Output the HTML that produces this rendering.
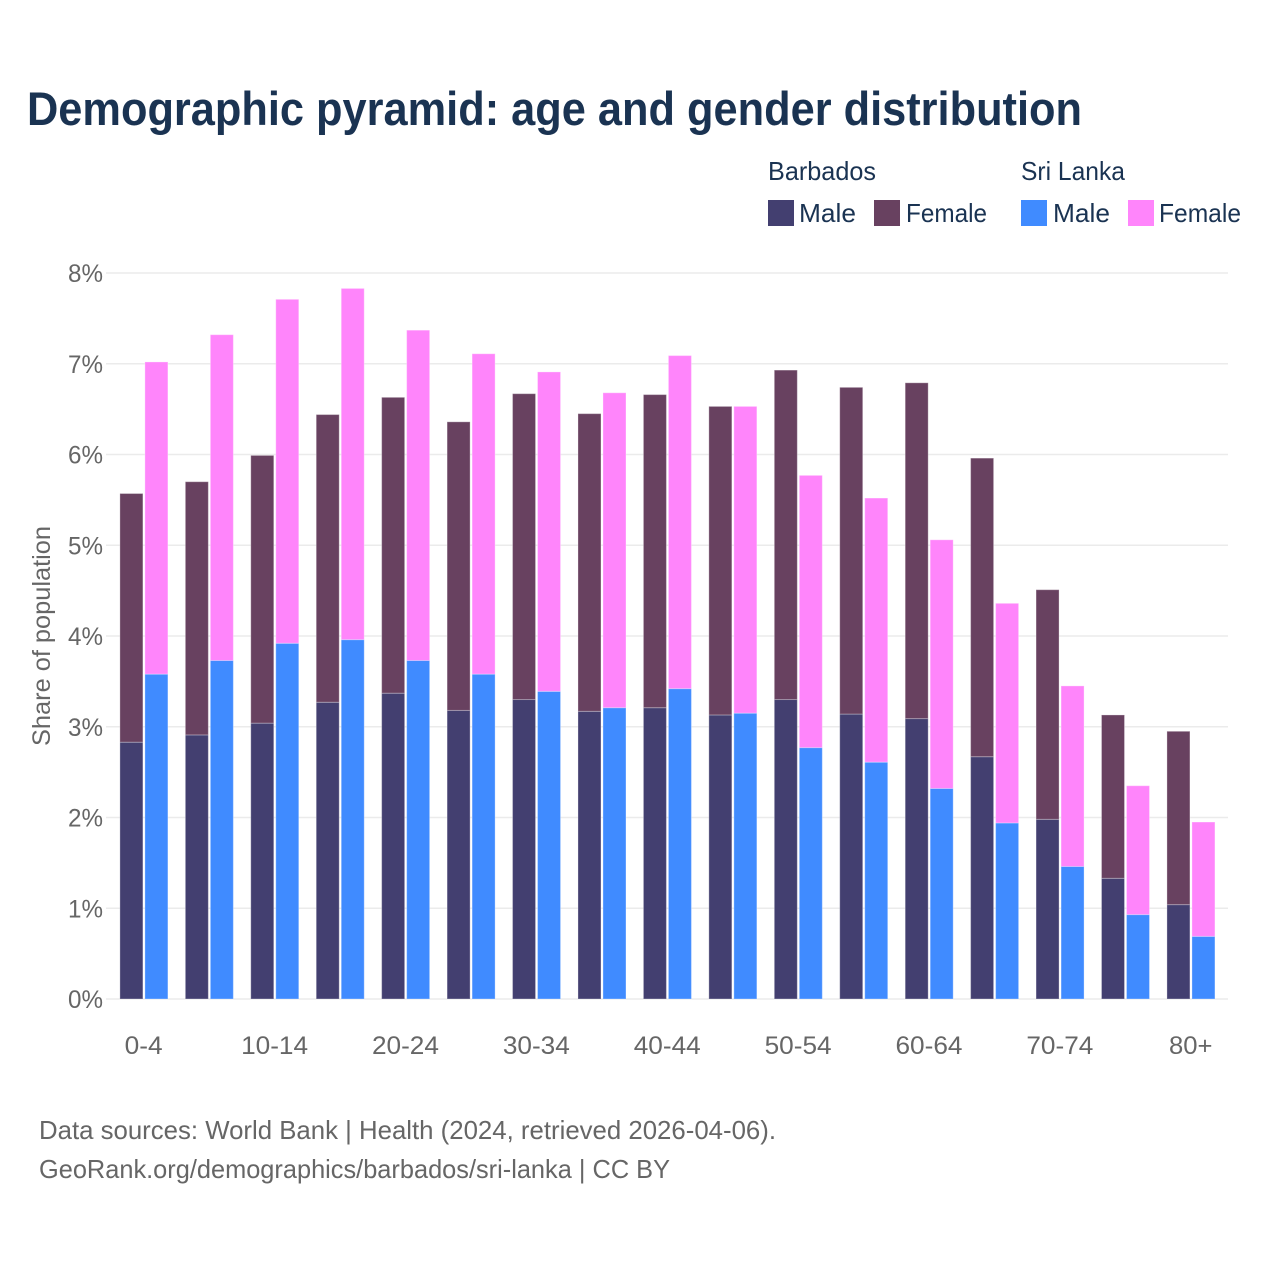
<!DOCTYPE html>
<html lang="en">
<head>
<meta charset="utf-8">
<title>Demographic pyramid: age and gender distribution</title>
<style>
html,body{margin:0;padding:0;background:#fff;}
svg{display:block;font-family:"Liberation Sans",sans-serif;}
</style>
</head>
<body>
<svg id="chart" width="1280" height="1280" viewBox="0 0 1280 1280" xmlns="http://www.w3.org/2000/svg">
  <rect x="0" y="0" width="1280" height="1280" fill="#ffffff"/>
  <text x="27" y="125" font-size="47" font-weight="700" fill="#1a3352" textLength="1055" lengthAdjust="spacingAndGlyphs">Demographic pyramid: age and gender distribution</text>

  <g font-size="26" fill="#1a3352">
    <text x="768" y="180" textLength="108" lengthAdjust="spacingAndGlyphs">Barbados</text>
    <text x="1021" y="180" textLength="104" lengthAdjust="spacingAndGlyphs">Sri Lanka</text>
    <rect x="768" y="200" width="26" height="26" fill="#433f70"/>
    <text x="799" y="222" textLength="57" lengthAdjust="spacingAndGlyphs">Male</text>
    <rect x="874" y="200" width="26" height="26" fill="#684160"/>
    <text x="906" y="222" textLength="81" lengthAdjust="spacingAndGlyphs">Female</text>
    <rect x="1021" y="200" width="26" height="26" fill="#408bff"/>
    <text x="1053" y="222" textLength="57" lengthAdjust="spacingAndGlyphs">Male</text>
    <rect x="1128" y="200" width="26" height="26" fill="#ff85fb"/>
    <text x="1159" y="222" textLength="82" lengthAdjust="spacingAndGlyphs">Female</text>
  </g>

  <g id="grid"></g>
  <g id="yticks"></g>
  <g id="bars"></g>
  <g id="xticks"></g>

  <text transform="translate(50,636) rotate(-90)" text-anchor="middle" font-size="25" fill="#666666" textLength="220" lengthAdjust="spacingAndGlyphs">Share of population</text>

  <text x="39" y="1139" font-size="26" fill="#666666" textLength="737" lengthAdjust="spacingAndGlyphs">Data sources: World Bank | Health (2024, retrieved 2026-04-06).</text>
  <text x="39" y="1178" font-size="26" fill="#666666" textLength="631" lengthAdjust="spacingAndGlyphs">GeoRank.org/demographics/barbados/sri-lanka | CC BY</text>
</svg>
<script>
const categories = ["0-4","5-9","10-14","15-19","20-24","25-29","30-34","35-39","40-44","45-49","50-54","55-59","60-64","65-69","70-74","75-79","80+"];
const xTickLabels = ["0-4","10-14","20-24","30-34","40-44","50-54","60-64","70-74","80+"];
const yTickValues = [0,1,2,3,4,5,6,7,8];
const barbadosMale = [2.83,2.91,3.04,3.27,3.37,3.18,3.30,3.17,3.21,3.13,3.30,3.14,3.09,2.67,1.98,1.33,1.04];
const barbadosFemale = [2.74,2.79,2.95,3.17,3.26,3.18,3.37,3.28,3.45,3.40,3.63,3.60,3.70,3.29,2.53,1.80,1.91];
const sriLankaMale = [3.58,3.73,3.92,3.96,3.73,3.58,3.39,3.21,3.42,3.15,2.77,2.61,2.32,1.94,1.46,0.93,0.69];
const sriLankaFemale = [3.44,3.59,3.79,3.87,3.64,3.53,3.52,3.47,3.67,3.38,3.00,2.91,2.74,2.42,1.99,1.42,1.26];

const NS = "http://www.w3.org/2000/svg";
const yScale = v => 999 - v * 90.75;
const xCenter = i => 143.7 + i * 65.44;
const BAR_W = 23;
const GAP = 2;
const colors = {bm:"#433f70", bf:"#684160", sm:"#408bff", sf:"#ff85fb"};
const labelWidth = s => {
  let w = 0;
  for (const c of s) w += c === "-" ? 9 : c === "%" ? 20.5 : 14.5;
  return w;
};

const grid = document.getElementById("grid");
const yticks = document.getElementById("yticks");
yTickValues.forEach(v => {
  const line = document.createElementNS(NS, "line");
  
  
  line.setAttribute("x1", 106);
  line.setAttribute("x2", 1228);
  line.setAttribute("y1", yScale(v));
  line.setAttribute("y2", yScale(v));
  line.setAttribute("stroke", "#ebebeb");
  line.setAttribute("stroke-width", 1.6);
  grid.appendChild(line);
  const t = document.createElementNS(NS, "text");
  
  
  const s = v + "%";
  t.setAttribute("x", 103 - labelWidth(s));
  t.setAttribute("y", yScale(v) + 9);
  t.setAttribute("font-size", 25);
  t.setAttribute("fill", "#666666");
  t.setAttribute("textLength", labelWidth(s));
  t.setAttribute("lengthAdjust", "spacingAndGlyphs");
  t.textContent = s;
  yticks.appendChild(t);
});

const bars = document.getElementById("bars");
function addSegment(x, base, value, fill, name) {
  const r = document.createElementNS(NS, "rect");
  
  
  r.setAttribute("x", x);
  r.setAttribute("y", yScale(base + value));
  r.setAttribute("width", BAR_W);
  r.setAttribute("height", yScale(base) - yScale(base + value));
  r.setAttribute("fill", fill);
  r.setAttribute("stroke", "#ffffff");
  r.setAttribute("stroke-opacity", "0.3");
  r.setAttribute("stroke-width", "1");
  bars.appendChild(r);
}
categories.forEach((c, i) => {
  const left = xCenter(i) - BAR_W - GAP / 2 + 0.2;
  const right = xCenter(i) + GAP / 2 + 0.2;
  addSegment(left, 0, barbadosMale[i], colors.bm, 'bar-barbados-male');
  addSegment(left, barbadosMale[i], barbadosFemale[i], colors.bf, 'bar-barbados-female');
  addSegment(right, 0, sriLankaMale[i], colors.sm, 'bar-sri-lanka-male');
  addSegment(right, sriLankaMale[i], sriLankaFemale[i], colors.sf, 'bar-sri-lanka-female');
});

const xticks = document.getElementById("xticks");
xTickLabels.forEach(label => {
  const i = categories.indexOf(label);
  const t = document.createElementNS(NS, "text");
  
  
  const w = labelWidth(label);
  t.setAttribute("x", xCenter(i) - w / 2);
  t.setAttribute("y", 1054);
  t.setAttribute("font-size", 25);
  t.setAttribute("fill", "#666666");
  t.setAttribute("textLength", w);
  t.setAttribute("lengthAdjust", "spacingAndGlyphs");
  t.textContent = label;
  xticks.appendChild(t);
});
</script>
</body>
</html>
